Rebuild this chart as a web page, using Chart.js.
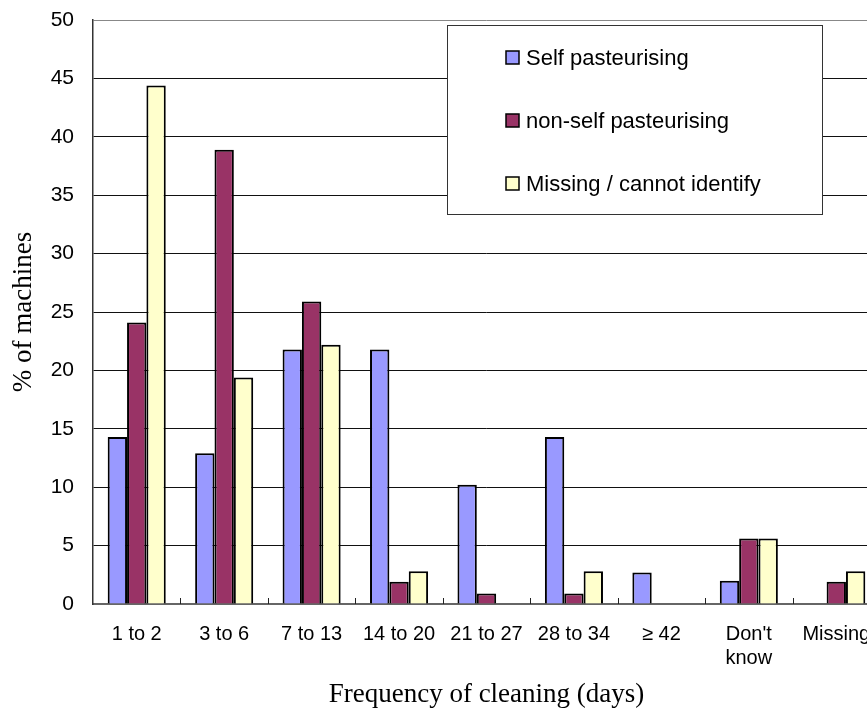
<!DOCTYPE html>
<html>
<head>
<meta charset="utf-8">
<script src="https://cdn.jsdelivr.net/npm/chart.js@4/dist/chart.umd.min.js"></script>
<style>
  html, body { margin: 0; padding: 0; background: #fff; }
  #wrap { width: 867px; height: 715px; overflow: hidden; position: relative; }
  canvas { display: block; }
</style>
</head>
<body>
<div id="wrap"><canvas id="c" width="900" height="715"></canvas></div>
<script>
// Cleaning frequency categories (days)
const categories = ['1 to 2', '3 to 6', '7 to 13', '14 to 20', '21 to 27', '28 to 34', '\u2265 42', ["Don't", 'know'], 'Missing'];

// % of machines per machine type
const selfPasteurising    = [14.3, 12.9, 21.8, 21.8, 10.2, 14.3, 2.7, 2.0, 0];
const nonSelfPasteurising = [24.1, 38.9, 25.9, 1.9, 0.9, 0.9, 0, 5.6, 1.9];
const missingUnknown      = [44.4, 19.4, 22.2, 2.8, 0, 2.8, 0, 5.6, 2.8];

const seriesNames = ['Self pasteurising', 'non-self pasteurising', 'Missing / cannot identify'];
const yTicks = [0, 5, 10, 15, 20, 25, 30, 35, 40, 45, 50];

const SANS = "'Liberation Sans', Arial, sans-serif";
const SERIF = "'Liberation Serif', 'Times New Roman', serif";

// Boxed legend drawn inside the plot area, top right
const boxLegend = {
  id: 'boxLegend',
  afterDraw(chart) {
    const ctx = chart.ctx;
    const ca = chart.chartArea;
    const x = ca.left + 354, y = ca.top + 5, w = 375, h = 189;
    ctx.save();
    ctx.fillStyle = '#fff';
    ctx.fillRect(x, y, w, h);
    ctx.strokeStyle = '#333';
    ctx.lineWidth = 1;
    ctx.strokeRect(x + 0.5, y + 0.5, w, h);
    ctx.font = '22px ' + SANS;
    ctx.textBaseline = 'middle';
    ctx.textAlign = 'left';
    chart.data.datasets.forEach((ds, i) => {
      const cy = y + 33 + i * 63;
      ctx.fillStyle = ds.backgroundColor;
      ctx.fillRect(x + 59, cy - 7, 13, 13);
      ctx.strokeStyle = '#000';
      ctx.lineWidth = 1.5;
      ctx.strokeRect(x + 59, cy - 7, 13, 13);
      ctx.fillStyle = '#000';
      ctx.fillText(ds.label, x + 79, cy + 1);
    });
    ctx.restore();
  }
};

// Short inward tick marks at the category boundaries on the x axis
const catTicks = {
  id: 'catTicks',
  afterDatasetsDraw(chart) {
    const xs = chart.scales.x;
    const ctx = chart.ctx;
    const bottom = chart.chartArea.bottom;
    const half = (xs.getPixelForValue(1) - xs.getPixelForValue(0)) / 2;
    ctx.save();
    ctx.strokeStyle = '#222';
    ctx.lineWidth = 1;
    for (let i = 0; i < categories.length; i++) {
      const px = Math.round(xs.getPixelForValue(i) + half) + 0.5;
      ctx.beginPath();
      ctx.moveTo(px, bottom);
      ctx.lineTo(px, bottom - 6);
      ctx.stroke();
    }
    ctx.restore();
  }
};

const colours = ['#9999FF', '#993366', '#FFFFCC'];
const values = [selfPasteurising, nonSelfPasteurising, missingUnknown];

new Chart(document.getElementById('c'), {
  type: 'bar',
  data: {
    labels: categories,
    datasets: values.map((v, i) => ({
      label: seriesNames[i],
      data: v,
      backgroundColor: colours[i],
      borderColor: '#000',
      borderWidth: 2,
      barPercentage: 1.0,
      categoryPercentage: 0.664
    }))
  },
  options: {
    responsive: false,
    animation: false,
    devicePixelRatio: 1,
    layout: { padding: { top: 20, right: 20, left: 0, bottom: 0 } },
    plugins: { legend: { display: false }, tooltip: { enabled: false } },
    scales: {
      x: {
        grid: { display: false },
        border: { display: true, color: '#666', width: 2 },
        ticks: {
          color: '#000',
          font: { family: SANS, size: 20, lineHeight: 1.2 },
          padding: 10,
          maxRotation: 0,
          autoSkip: false
        },
        title: {
          display: true,
          text: 'Frequency of cleaning (days)',
          color: '#000',
          font: { family: SERIF, size: 27, lineHeight: 1.1 },
          padding: { top: 0, bottom: 5 }
        },
        afterFit(scale) { scale.height = 111; }
      },
      y: {
        min: 0,
        max: 50,
        afterBuildTicks(scale) { scale.ticks = yTicks.map(v => ({ value: v })); },
        grid: {
          color: ctx => (ctx.tick && ctx.tick.value === 50 ? '#888' : '#111'),
          lineWidth: 1,
          drawTicks: false
        },
        border: { display: true, color: '#333', width: 1.5 },
        ticks: {
          color: '#000',
          font: { family: SANS, size: 21 },
          padding: 19
        },
        title: {
          display: true,
          text: '% of machines',
          color: '#000',
          font: { family: SERIF, size: 27, lineHeight: 1.2 },
          padding: { top: 8, bottom: 0 }
        },
        afterFit(scale) {
          scale.width = 93;
          scale.paddingTop = 0;
          scale.paddingBottom = 0;
        }
      }
    }
  },
  plugins: [catTicks, boxLegend]
});
</script>
</body>
</html>
